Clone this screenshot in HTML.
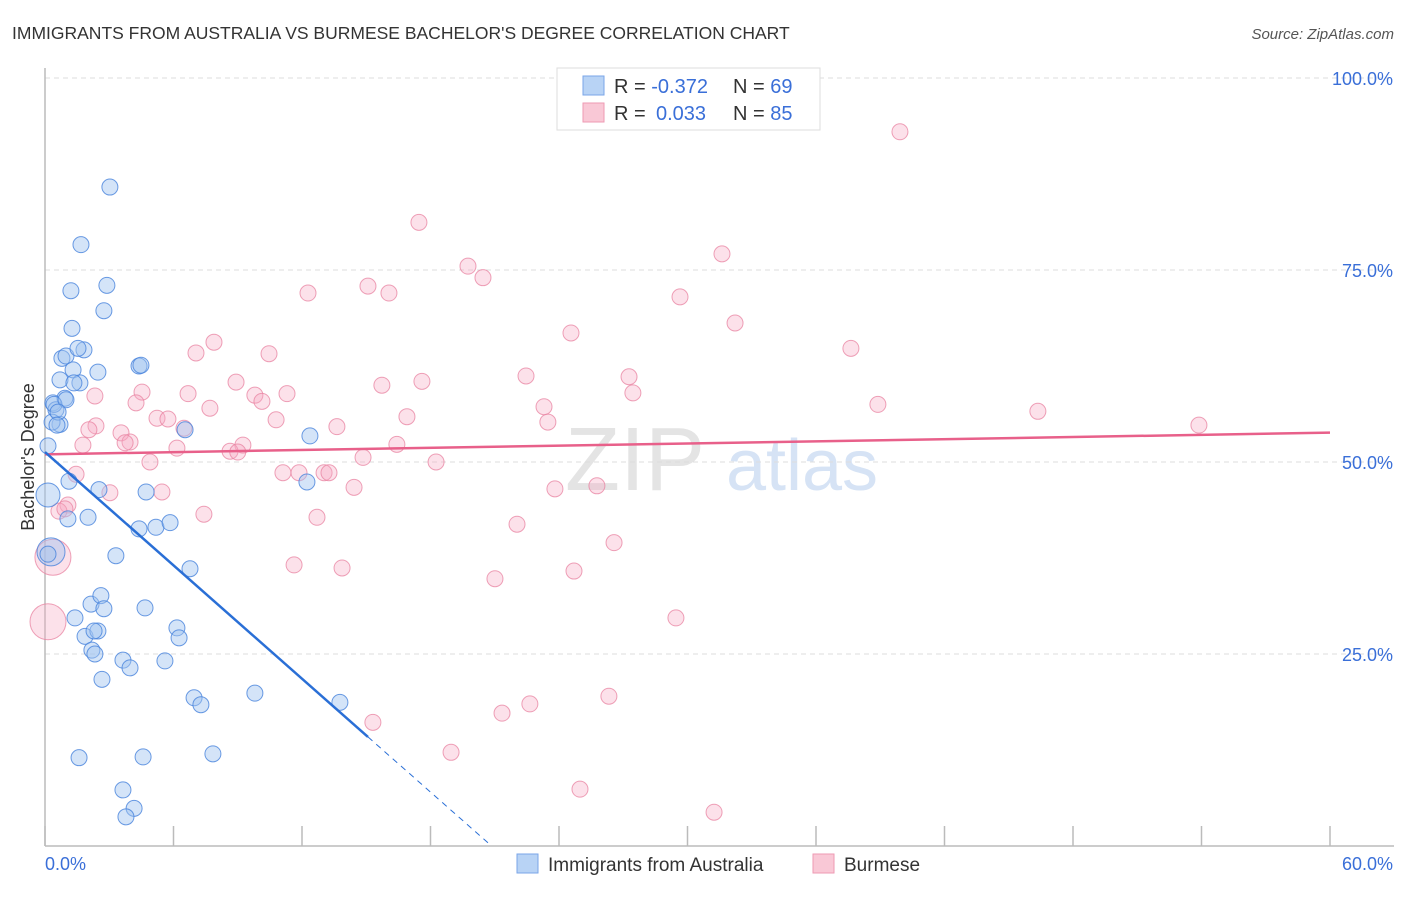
<!DOCTYPE html>
<html><head><meta charset="utf-8"><style>
body{margin:0;background:#fff;font-family:"Liberation Sans",sans-serif;}
svg text{font-family:"Liberation Sans",sans-serif;}
</style></head><body>
<svg id="chart" width="1406" height="892" xmlns="http://www.w3.org/2000/svg">
<text x="12" y="39" font-size="17.5" fill="#333">IMMIGRANTS FROM AUSTRALIA VS BURMESE BACHELOR'S DEGREE CORRELATION CHART</text>
<text x="1394" y="39" font-size="15" fill="#555" font-style="italic" text-anchor="end">Source: ZipAtlas.com</text>
<g>
<text x="635" y="490" font-size="90" fill="#e4e4e4" font-family="Liberation Serif" text-anchor="middle">ZIP</text>
<text x="802" y="490" font-size="72" fill="#d6e3f5" text-anchor="middle">atlas</text>
</g>
<g id="grid"></g>
<g id="axes"></g>
<g id="marks"></g>
<text transform="translate(34,457) rotate(-90)" font-size="18" fill="#333" text-anchor="middle">Bachelor's Degree</text>
<g>
<rect x="557" y="68" width="263" height="62" fill="#fff" stroke="#ddd"/>
<rect x="583" y="76" width="21" height="19" fill="#b8d3f5" stroke="#7aa6e8"/>
<rect x="583" y="103" width="21" height="19" fill="#f9c8d6" stroke="#ee9ab3"/>
<text x="614" y="93" font-size="20" fill="#333">R = <tspan fill="#3a6fd8">-0.372</tspan><tspan x="733">N = </tspan><tspan fill="#3a6fd8">69</tspan></text>
<text x="614" y="120" font-size="20" fill="#333">R = <tspan x="656" fill="#3a6fd8">0.033</tspan><tspan x="733">N = </tspan><tspan fill="#3a6fd8">85</tspan></text>
</g>
<g>
<rect x="517" y="854" width="21" height="19" fill="#b8d3f5" stroke="#7aa6e8"/>
<text x="548" y="871" font-size="19" fill="#333">Immigrants from Australia</text>
<rect x="813" y="854" width="21" height="19" fill="#f9c8d6" stroke="#ee9ab3"/>
<text x="844" y="871" font-size="19" fill="#333">Burmese</text>
</g>
</svg>
<script>
const blueX=[3.03,1.68,1.21,2.89,2.75,1.26,0.79,0.98,1.82,1.54,1.31,2.47,0.70,1.63,1.35,4.39,4.48,0.93,0.37,0.51,0.42,0.70,0.33,0.14,6.54,12.37,0.14,1.12,2.52,4.72,1.07,2.01,4.39,5.18,5.84,12.23,3.31,6.77,1.40,2.15,2.61,2.75,4.67,1.87,2.47,2.29,2.19,2.33,6.16,6.26,3.64,5.60,3.97,2.66,6.96,7.28,9.80,13.77,1.59,4.58,7.84,3.64,4.16,3.78,0.28,0.98,0.61,0.56,0.14];
const blueY=[85.8,78.3,72.3,73.0,69.7,67.4,63.5,63.8,64.6,64.8,62.0,61.7,60.7,60.3,60.3,62.5,62.6,58.3,57.7,56.8,57.5,54.9,55.2,52.1,54.2,53.4,45.7,47.5,46.4,46.1,42.6,42.8,41.3,41.5,42.1,47.4,37.8,36.1,29.7,31.5,32.6,30.9,31.0,27.3,28.0,28.0,25.5,25.0,28.4,27.1,24.2,24.1,23.2,21.7,19.3,18.4,19.9,18.7,11.5,11.6,12.0,7.3,4.9,3.8,38.3,58.1,56.5,54.8,38.0];
const blueR=[8,8,8,8,8,8,8,8,8,8,8,8,8,8,8,8,8,8,8,8,8,8,8,8,8,8,12,8,8,8,8,8,8,8,8,8,8,8,8,8,8,8,8,8,8,8,8,8,8,8,8,8,8,8,8,8,8,8,8,8,8,8,8,8,14,8,8,8,8];
const pinkX=[39.92,17.46,19.75,31.61,20.45,12.28,15.08,16.06,29.65,32.22,24.56,37.63,7.89,7.05,10.46,22.46,27.27,17.60,15.73,8.92,6.68,4.53,9.80,10.13,11.30,7.70,4.25,27.45,23.30,38.89,46.36,53.88,23.48,16.90,10.79,5.23,5.74,2.38,2.05,3.55,6.49,13.63,3.97,9.24,8.64,6.16,16.43,4.90,1.77,14.85,18.26,1.45,11.11,11.86,13.03,13.26,14.43,23.81,25.77,3.03,5.46,1.07,0.65,7.42,12.70,22.04,26.57,11.63,13.87,21.01,24.70,29.46,0.14,0.37,15.31,21.34,22.64,26.33,18.96,24.98,31.24,0.93,2.33,3.74,9.0];
const pinkY=[93.0,81.2,75.5,77.1,74.0,72.0,72.9,72.0,71.5,68.1,66.8,64.8,65.6,64.2,64.1,61.2,61.1,60.5,60.0,60.4,58.9,59.1,58.7,57.9,58.9,57.0,57.7,59.0,57.2,57.5,56.6,54.8,55.2,55.9,55.5,55.7,55.6,54.7,54.2,53.8,54.4,54.6,52.6,52.2,51.4,51.8,52.3,50.0,52.2,50.6,50.0,48.4,48.6,48.6,48.6,48.6,46.7,46.5,46.9,46.0,46.1,44.4,43.6,43.2,42.8,41.9,39.5,36.6,36.2,34.8,35.8,29.7,29.2,37.6,16.1,17.3,18.5,19.5,12.2,7.4,4.4,43.9,58.6,52.5,51.3];
const pinkBig=[72,73];
const yTicks=[25,50,75,100];
const yTickLabels=["25.0%","50.0%","75.0%","100.0%"];
const xTicks=[0,6,12,18,24,30,36,42,48,54,60];
const blueTrend=[51.3,-2.46];
const pinkTrend=[51.0,0.047];
const X0=45,X1=1330,Y0=846,Y1=78;
const sx=v=>X0+(v/60)*(X1-X0);
const sy=v=>Y0-(v/100)*(Y0-Y1);
const NS="http://www.w3.org/2000/svg";
function mk(parent,tag,attrs){const e=document.createElementNS(NS,tag);for(const k in attrs)e.setAttribute(k,attrs[k]);parent.appendChild(e);return e;}
const grid=document.getElementById('grid'),axes=document.getElementById('axes'),marks=document.getElementById('marks');
yTicks.forEach((t,i)=>{
  const l=mk(grid,'line',{x1:X0,x2:1394,y1:sy(t),y2:sy(t),stroke:'#ddd','stroke-dasharray':'5,4'});
  
  
  const tx=mk(axes,'text',{x:1393,y:sy(t)+7,'font-size':18,fill:'#3a6fd8','text-anchor':'end'});
  tx.textContent=yTickLabels[i];
  
  
});
let a=mk(axes,'line',{x1:X0,x2:X0,y1:68,y2:Y0,stroke:'#bbb','stroke-width':1.5});


a=mk(axes,'line',{x1:X0,x2:1394,y1:Y0,y2:Y0,stroke:'#bbb','stroke-width':1.5});


xTicks.forEach(t=>{
  const l=mk(axes,'line',{x1:sx(t),x2:sx(t),y1:826,y2:Y0,stroke:'#bbb','stroke-width':1.5});
  
  
});
let t0=mk(axes,'text',{x:45,y:870,'font-size':18,fill:'#3a6fd8'});t0.textContent=xTicks[0].toFixed(1)+'%';


let t1=mk(axes,'text',{x:1393,y:870,'font-size':18,fill:'#3a6fd8','text-anchor':'end'});t1.textContent=xTicks[xTicks.length-1].toFixed(1)+'%';


pinkX.forEach((x,i)=>{
  const c=mk(marks,'circle',{cx:sx(x),cy:sy(pinkY[i]),r:pinkBig.includes(i)?18:8,fill:'rgba(246,170,194,0.35)',stroke:'rgba(232,130,160,0.75)','stroke-width':1});
  
  
});
blueX.forEach((x,i)=>{
  const c=mk(marks,'circle',{cx:sx(x),cy:sy(blueY[i]),r:blueR[i],fill:'rgba(160,196,240,0.45)',stroke:'rgba(70,130,220,0.8)','stroke-width':1});
  
  
});
let pl=mk(marks,'line',{x1:sx(0),y1:sy(pinkTrend[0]),x2:sx(60),y2:sy(pinkTrend[0]+pinkTrend[1]*60),stroke:'#e8608a','stroke-width':2.5});


const xEnd=15.08,xZero=-blueTrend[0]/blueTrend[1];
let bl=mk(marks,'line',{x1:sx(0),y1:sy(blueTrend[0]),x2:sx(xEnd),y2:sy(blueTrend[0]+blueTrend[1]*xEnd),stroke:'#2a6fd6','stroke-width':2.5});


let bd=mk(marks,'line',{x1:sx(xEnd),y1:sy(blueTrend[0]+blueTrend[1]*xEnd),x2:sx(xZero),y2:sy(0),stroke:'#2a6fd6','stroke-width':1,'stroke-dasharray':'6,5'});


</script>
</body></html>
